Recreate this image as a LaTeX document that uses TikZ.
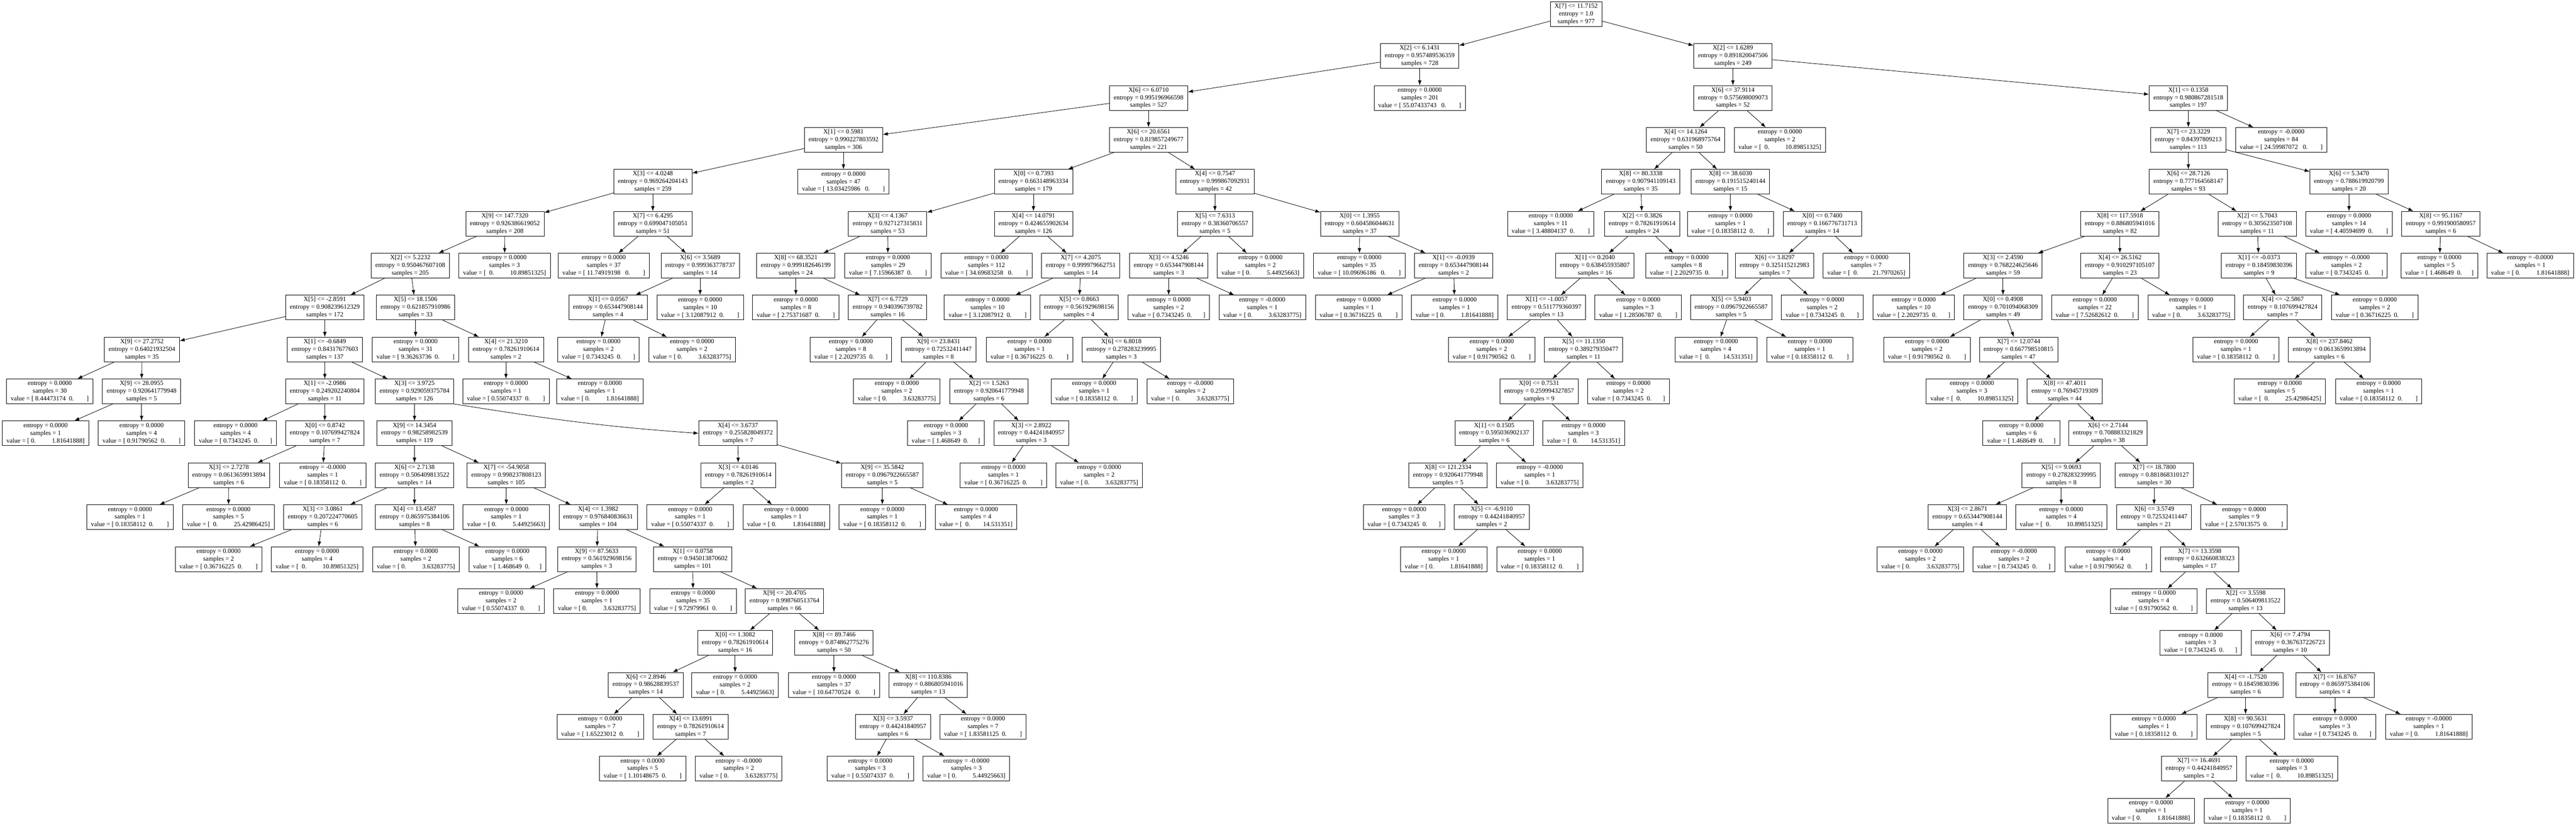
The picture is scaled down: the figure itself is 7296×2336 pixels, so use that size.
\documentclass[tikz,border=0pt]{standalone}
\usepackage{fontspec}
\setmainfont{Liberation Serif}
\usetikzlibrary{arrows.meta}
\newcommand\spc[1]{\hspace*{#1\fontdimen2\font}}
\newcommand\VL[2]{value = [\spc{1}#1\spc{2}0.\spc{#2}]}
\newcommand\VLL[2]{value = [\spc{1}#1\spc{3}0.\spc{#2}]}
\newcommand\VR[2]{value = [\spc{1}0.\spc{#2}#1]}
\newcommand\VRR[2]{value = [\spc{2}0.\spc{#2}#1]}
\newcommand\IN[4]{X[#1] <= #2\\entropy = #3\\samples = #4}
\newcommand\LF[3]{entropy = #1\\samples = #2\\#3}
\newcommand\N[4]{\node[box] (#1) at (#2,{40+118.7*#3}) {#4};}
\begin{document}
\begin{tikzpicture}[x=0.5pt,y=-0.5pt,
  box/.style={draw,line width=0.6pt,rectangle,align=center,inner xsep=6pt,inner ysep=0pt,minimum height=35pt,font=\fontsize{9.1}{10.85}\selectfont},
  arr/.style={-{Latex[length=7pt,width=5pt]},line width=0.6pt}]
\fill[white] (0,0) rectangle (7296,2336);
\useasboundingbox (0,0) rectangle (7296,2336);
% level 0
\N{r}{4464}{0}{\IN{7}{11.7152}{1.0}{977}}
% level 1
\N{a}{4021}{1}{\IN{2}{6.1431}{0.957489536359}{728}}
\N{b}{4908}{1}{\IN{2}{1.6289}{0.891820047506}{249}}
% level 2
\N{a1}{3253}{2}{\IN{6}{6.0710}{0.995196966598}{527}}
\N{a2}{4021}{2}{\LF{0.0000}{201}{\VLL{55.07433743}{8}}}
\N{b1}{4908}{2}{\IN{6}{37.9114}{0.575698009073}{52}}
\N{b2}{6198}{2}{\IN{1}{0.1358}{0.980867281518}{197}}
% level 3
\N{c1}{2389}{3}{\IN{1}{0.5981}{0.990227803592}{306}}
\N{c2}{3253}{3}{\IN{6}{20.6561}{0.819857249677}{221}}
\N{c3}{4774}{3}{\IN{4}{14.1264}{0.631968975764}{50}}
\N{c4}{5041}{3}{\LF{0.0000}{2}{\VRR{10.89851325}{10}}}
\N{c5}{6198}{3}{\IN{7}{23.3229}{0.84397809213}{113}}
\N{c6}{6461}{3}{\LF{-0.0000}{84}{\VLL{24.59987072}{8}}}
% level 4
\N{d1}{1849}{4}{\IN{3}{4.0248}{0.969264204143}{259}}
\N{d2}{2389}{4}{\LF{0.0000}{47}{\VLL{13.03425986}{8}}}
\N{d3}{2927}{4}{\IN{0}{0.7393}{0.663148963334}{179}}
\N{d4}{3441}{4}{\IN{4}{0.7547}{0.999867092931}{42}}
\N{d5}{4647}{4}{\IN{8}{80.3338}{0.907941109143}{35}}
\N{d6}{4901}{4}{\IN{8}{38.6030}{0.191515240144}{15}}
\N{d7}{6198}{4}{\IN{6}{28.7126}{0.777164568147}{93}}
\N{d8}{6653}{4}{\IN{6}{5.3470}{0.788619920799}{20}}
% level 5
\N{e1}{1430}{5}{\IN{9}{147.7320}{0.926386619052}{208}}
\N{e2}{1849}{5}{\IN{7}{6.4295}{0.699047105051}{51}}
\N{e3}{2514}{5}{\IN{3}{4.1367}{0.927127315831}{53}}
\N{e4}{2927}{5}{\IN{4}{14.0791}{0.424655902634}{126}}
\N{e5}{3441}{5}{\IN{5}{7.6313}{0.38360706557}{5}}
\N{e6}{3851}{5}{\IN{0}{1.3955}{0.604586044631}{37}}
\N{e7}{4392}{5}{\LF{0.0000}{11}{\VL{3.48804137}{8}}}
\N{e8}{4651}{5}{\IN{2}{0.3826}{0.78261910614}{24}}
\N{e9}{4901}{5}{\LF{0.0000}{1}{\VL{0.18358112}{8}}}
\N{e10}{5161}{5}{\IN{0}{0.7400}{0.166776731713}{14}}
\N{e11}{6004}{5}{\IN{8}{117.5918}{0.886805941016}{82}}
\N{e12}{6393}{5}{\IN{2}{5.7043}{0.305623507108}{11}}
\N{e13}{6653}{5}{\LF{0.0000}{14}{\VL{4.40594699}{8}}}
\N{e14}{6913}{5}{\IN{8}{95.1167}{0.991900580957}{6}}
% level 6
\N{f1}{1162}{6}{\IN{2}{5.2232}{0.950467607108}{205}}
\N{f2}{1429}{6}{\LF{0.0000}{3}{\VRR{10.89851325}{10}}}
\N{f3}{1710}{6}{\LF{0.0000}{37}{\VLL{11.74919198}{8}}}
\N{f4}{1983}{6}{\IN{6}{3.5689}{0.999363778737}{14}}
\N{f5}{2254}{6}{\IN{8}{68.3521}{0.999182646199}{24}}
\N{f6}{2515}{6}{\LF{0.0000}{29}{\VL{7.15966387}{8}}}
\N{f7}{2794}{6}{\LF{0.0000}{112}{\VLL{34.69683258}{8}}}
\N{f8}{3061}{6}{\IN{7}{4.2075}{0.999979662751}{14}}
\N{f9}{3310}{6}{\IN{3}{4.5246}{0.653447908144}{3}}
\N{f10}{3570}{6}{\LF{0.0000}{2}{\VR{5.44925663}{10}}}
\N{f11}{3850}{6}{\LF{0.0000}{35}{\VLL{10.09696186}{8}}}
\N{f12}{4117}{6}{\IN{1}{-0.0939}{0.653447908144}{2}}
\N{f13}{4517}{6}{\IN{1}{0.2040}{0.638455935807}{16}}
\N{f14}{4777}{6}{\LF{0.0000}{8}{\VL{2.2029735}{7}}}
\N{f15}{5026}{6}{\IN{6}{3.8297}{0.325115212983}{7}}
\N{f16}{5286}{6}{\LF{0.0000}{7}{\VRR{21.7970265}{9}}}
\N{f17}{5673}{6}{\IN{3}{2.4590}{0.768224625646}{59}}
\N{f18}{6004}{6}{\IN{4}{26.5162}{0.910297105107}{23}}
\N{f19}{6398}{6}{\IN{1}{-0.0373}{0.18459830396}{9}}
\N{f20}{6646}{6}{\LF{-0.0000}{2}{\VL{0.7343245}{7}}}
\N{f21}{6909}{6}{\LF{0.0000}{5}{\VL{1.468649}{6}}}
\N{f22}{7166}{6}{\LF{-0.0000}{1}{\VR{1.81641888}{10}}}
% level 7
\N{g1}{920}{7}{\IN{5}{-2.8591}{0.908239612329}{172}}
\N{g2}{1177}{7}{\IN{5}{18.1506}{0.621857910986}{33}}
\N{g3}{1722}{7}{\IN{1}{0.0567}{0.653447908144}{4}}
\N{g4}{1983}{7}{\LF{0.0000}{10}{\VL{3.12087912}{8}}}
\N{g5}{2254}{7}{\LF{0.0000}{8}{\VL{2.75371687}{8}}}
\N{g6}{2514}{7}{\IN{7}{6.7729}{0.940396739782}{16}}
\N{g7}{2797}{7}{\LF{0.0000}{10}{\VL{3.12087912}{8}}}
\N{g8}{3056}{7}{\IN{5}{0.8663}{0.561929698156}{4}}
\N{g9}{3310}{7}{\LF{0.0000}{2}{\VL{0.7343245}{7}}}
\N{g10}{3575}{7}{\LF{-0.0000}{1}{\VR{3.63283775}{10}}}
\N{g11}{3848}{7}{\LF{0.0000}{1}{\VL{0.36716225}{8}}}
\N{g12}{4120}{7}{\LF{0.0000}{1}{\VR{1.81641888}{10}}}
\N{g13}{4380}{7}{\IN{1}{-1.0057}{0.511779360397}{13}}
\N{g14}{4640}{7}{\LF{0.0000}{3}{\VL{1.28506787}{8}}}
\N{g15}{4903}{7}{\IN{5}{5.9403}{0.0967922665587}{5}}
\N{g16}{5161}{7}{\LF{0.0000}{2}{\VL{0.7343245}{7}}}
\N{g17}{5420}{7}{\LF{0.0000}{10}{\VL{2.2029735}{7}}}
\N{g18}{5673}{7}{\IN{0}{0.4908}{0.701094068309}{49}}
\N{g19}{5933}{7}{\LF{0.0000}{22}{\VL{7.52682612}{8}}}
\N{g20}{6206}{7}{\LF{0.0000}{1}{\VR{3.63283775}{10}}}
\N{g21}{6465}{7}{\IN{4}{-2.5867}{0.107699427824}{7}}
\N{g22}{6726}{7}{\LF{0.0000}{2}{\VL{0.36716225}{8}}}
% level 8
\N{h1}{402}{8}{\IN{9}{27.2752}{0.64021932504}{35}}
\N{h2}{920}{8}{\IN{1}{-0.6849}{0.84317677603}{137}}
\N{h3}{1177}{8}{\LF{0.0000}{31}{\VL{9.36263736}{8}}}
\N{h4}{1433}{8}{\IN{4}{21.3210}{0.78261910614}{2}}
\N{h5}{1695}{8}{\LF{0.0000}{2}{\VL{0.7343245}{7}}}
\N{h6}{1960}{8}{\LF{0.0000}{2}{\VR{3.63283775}{10}}}
\N{h7}{2410}{8}{\LF{0.0000}{8}{\VL{2.2029735}{7}}}
\N{h8}{2658}{8}{\IN{9}{23.8431}{0.72532411447}{8}}
\N{h9}{2916}{8}{\LF{0.0000}{1}{\VL{0.36716225}{8}}}
\N{h10}{3176}{8}{\IN{6}{6.8018}{0.278283239995}{3}}
\N{h11}{4225}{8}{\LF{0.0000}{2}{\VL{0.91790562}{8}}}
\N{h12}{4485}{8}{\IN{5}{11.1350}{0.389279350477}{11}}
\N{h13}{4860}{8}{\LF{0.0000}{4}{\VRR{14.531351}{8}}}
\N{h14}{5126}{8}{\LF{0.0000}{1}{\VL{0.18358112}{8}}}
\N{h15}{5458}{8}{\LF{0.0000}{2}{\VL{0.91790562}{8}}}
\N{h16}{5717}{8}{\IN{7}{12.0744}{0.667798510815}{47}}
\N{h17}{6333}{8}{\LF{0.0000}{1}{\VL{0.18358112}{8}}}
\N{h18}{6597}{8}{\IN{8}{237.8462}{0.0613659913894}{6}}
% level 9
\N{i1}{141}{9}{\LF{0.0000}{30}{\VL{8.44473174}{8}}}
\N{i2}{401}{9}{\IN{9}{28.0955}{0.920641779948}{5}}
\N{i3}{920}{9}{\IN{1}{-2.0986}{0.249202240804}{11}}
\N{i4}{1174}{9}{\IN{3}{3.9725}{0.929059375784}{126}}
\N{i5}{1433}{9}{\LF{0.0000}{1}{\VL{0.55074337}{8}}}
\N{i6}{1699}{9}{\LF{0.0000}{1}{\VR{1.81641888}{10}}}
\N{i7}{2540}{9}{\LF{0.0000}{2}{\VR{3.63283775}{10}}}
\N{i8}{2801}{9}{\IN{2}{1.5263}{0.920641779948}{6}}
\N{i9}{3099}{9}{\LF{0.0000}{1}{\VL{0.18358112}{8}}}
\N{i10}{3371}{9}{\LF{-0.0000}{2}{\VR{3.63283775}{10}}}
\N{i11}{4359}{9}{\IN{0}{0.7531}{0.259994327857}{9}}
\N{i12}{4612}{9}{\LF{0.0000}{2}{\VL{0.7343245}{7}}}
\N{i13}{5585}{9}{\LF{0.0000}{3}{\VRR{10.89851325}{10}}}
\N{i14}{5848}{9}{\IN{8}{47.4011}{0.76945719309}{44}}
\N{i15}{6457}{9}{\LF{0.0000}{5}{\VRR{25.42986425}{10}}}
\N{i16}{6737}{9}{\LF{0.0000}{1}{\VL{0.18358112}{8}}}
% level 10
\N{j1}{129}{10}{\LF{0.0000}{1}{\VR{1.81641888}{10}}}
\N{j2}{401}{10}{\LF{0.0000}{4}{\VL{0.91790562}{8}}}
\N{j3}{667}{10}{\LF{0.0000}{4}{\VL{0.7343245}{7}}}
\N{j4}{920}{10}{\IN{0}{0.8742}{0.107699427824}{7}}
\N{j5}{1174}{10}{\IN{9}{14.3454}{0.98258982539}{119}}
\N{j6}{2090}{10}{\IN{4}{3.6737}{0.255828049372}{7}}
\N{j7}{2679}{10}{\LF{0.0000}{3}{\VL{1.468649}{6}}}
\N{j8}{2921}{10}{\IN{3}{2.8922}{0.44241840957}{3}}
\N{j9}{4232}{10}{\IN{1}{0.1505}{0.595036902137}{6}}
\N{j10}{4485}{10}{\LF{0.0000}{3}{\VRR{14.531351}{8}}}
\N{j11}{5725}{10}{\LF{0.0000}{6}{\VL{1.468649}{6}}}
\N{j12}{5970}{10}{\IN{6}{2.7144}{0.708883321829}{38}}
% level 11
\N{k1}{648}{11}{\IN{3}{2.7278}{0.0613659913894}{6}}
\N{k2}{914}{11}{\LF{-0.0000}{1}{\VL{0.18358112}{8}}}
\N{k3}{1174}{11}{\IN{6}{2.7138}{0.506409813522}{14}}
\N{k4}{1434}{11}{\IN{7}{-54.9058}{0.998237808123}{105}}
\N{k5}{2091}{11}{\IN{3}{4.0146}{0.78261910614}{2}}
\N{k6}{2499}{11}{\IN{9}{35.5842}{0.0967922665587}{5}}
\N{k7}{2842}{11}{\LF{0.0000}{1}{\VL{0.36716225}{8}}}
\N{k8}{3113}{11}{\LF{0.0000}{2}{\VR{3.63283775}{10}}}
\N{k9}{4101}{11}{\IN{8}{121.2334}{0.920641779948}{5}}
\N{k10}{4361}{11}{\LF{-0.0000}{1}{\VR{3.63283775}{10}}}
\N{k11}{5838}{11}{\IN{5}{9.0693}{0.278283239995}{8}}
\N{k12}{6101}{11}{\IN{7}{18.7800}{0.881868310127}{30}}
% level 12
\N{l1}{368}{12}{\LF{0.0000}{1}{\VL{0.18358112}{8}}}
\N{l2}{647}{12}{\LF{0.0000}{5}{\VRR{25.42986425}{10}}}
\N{l3}{914}{12}{\IN{3}{3.0861}{0.207224770605}{6}}
\N{l4}{1174}{12}{\IN{4}{13.4587}{0.865975384106}{8}}
\N{l5}{1434}{12}{\LF{0.0000}{1}{\VR{5.44925663}{10}}}
\N{l6}{1694}{12}{\IN{4}{1.3982}{0.976840836631}{104}}
\N{l7}{1955}{12}{\LF{0.0000}{1}{\VL{0.55074337}{8}}}
\N{l8}{2227}{12}{\LF{0.0000}{1}{\VR{1.81641888}{10}}}
\N{l9}{2499}{12}{\LF{0.0000}{1}{\VL{0.18358112}{8}}}
\N{l10}{2764}{12}{\LF{0.0000}{4}{\VRR{14.531351}{8}}}
\N{l11}{3977}{12}{\LF{0.0000}{3}{\VL{0.7343245}{7}}}
\N{l12}{4225}{12}{\IN{5}{-6.9110}{0.44241840957}{2}}
\N{l13}{5572}{12}{\IN{3}{2.8671}{0.653447908144}{4}}
\N{l14}{5838}{12}{\LF{0.0000}{4}{\VRR{10.89851325}{10}}}
\N{l15}{6101}{12}{\IN{6}{3.5749}{0.72532411447}{21}}
\N{l16}{6356}{12}{\LF{0.0000}{9}{\VL{2.57013575}{8}}}
% level 13
\N{m1}{619}{13}{\LF{0.0000}{2}{\VL{0.36716225}{8}}}
\N{m2}{898}{13}{\LF{0.0000}{4}{\VRR{10.89851325}{10}}}
\N{m3}{1178}{13}{\LF{0.0000}{2}{\VR{3.63283775}{10}}}
\N{m4}{1437}{13}{\LF{0.0000}{6}{\VL{1.468649}{6}}}
\N{m5}{1690}{13}{\IN{9}{87.5633}{0.561929698156}{3}}
\N{m6}{1962}{13}{\IN{1}{0.0758}{0.945013870602}{101}}
\N{m7}{4089}{13}{\LF{0.0000}{1}{\VR{1.81641888}{10}}}
\N{m8}{4361}{13}{\LF{0.0000}{1}{\VL{0.18358112}{8}}}
\N{m9}{5439}{13}{\LF{0.0000}{2}{\VR{3.63283775}{10}}}
\N{m10}{5704}{13}{\LF{-0.0000}{2}{\VL{0.7343245}{7}}}
\N{m11}{5971}{13}{\LF{0.0000}{4}{\VL{0.91790562}{8}}}
\N{m12}{6230}{13}{\IN{7}{13.3598}{0.632660838323}{17}}
% level 14
\N{o1}{1419}{14}{\LF{0.0000}{2}{\VL{0.55074337}{8}}}
\N{o2}{1691}{14}{\LF{0.0000}{1}{\VR{3.63283775}{10}}}
\N{o3}{1963}{14}{\LF{0.0000}{35}{\VL{9.72979961}{8}}}
\N{o4}{2222}{14}{\IN{9}{20.4705}{0.998760513764}{66}}
\N{o5}{6100}{14}{\LF{0.0000}{4}{\VL{0.91790562}{8}}}
\N{o6}{6360}{14}{\IN{2}{3.5598}{0.506409813522}{13}}
% level 15
\N{p1}{2082}{15}{\IN{0}{1.3082}{0.78261910614}{16}}
\N{p2}{2362}{15}{\IN{8}{89.7466}{0.874862775276}{50}}
\N{p3}{6233}{15}{\LF{0.0000}{3}{\VL{0.7343245}{7}}}
\N{p4}{6486}{15}{\IN{6}{7.4794}{0.367637226723}{10}}
% level 16
\N{q1}{1829}{16}{\IN{6}{2.8946}{0.98628839537}{14}}
\N{q2}{2082}{16}{\LF{0.0000}{2}{\VR{5.44925663}{10}}}
\N{q3}{2362}{16}{\LF{0.0000}{37}{\VLL{10.64770524}{8}}}
\N{q4}{2629}{16}{\IN{8}{110.8386}{0.886805941016}{13}}
\N{q5}{6360}{16}{\IN{4}{-1.7520}{0.18459830396}{6}}
\N{q6}{6613}{16}{\IN{7}{16.8767}{0.865975384106}{4}}
% level 17
\N{s1}{1700}{17}{\LF{0.0000}{7}{\VL{1.65223012}{8}}}
\N{s2}{1956}{17}{\IN{4}{13.6991}{0.78261910614}{7}}
\N{s3}{2529}{17}{\IN{3}{3.5937}{0.44241840957}{6}}
\N{s4}{2784}{17}{\LF{0.0000}{7}{\VL{1.83581125}{8}}}
\N{s5}{6100}{17}{\LF{0.0000}{1}{\VL{0.18358112}{8}}}
\N{s6}{6360}{17}{\IN{8}{90.5631}{0.107699427824}{5}}
\N{s7}{6613}{17}{\LF{0.0000}{3}{\VL{0.7343245}{7}}}
\N{s8}{6879}{17}{\LF{-0.0000}{1}{\VR{1.81641888}{10}}}
% level 18
\N{t1}{1820}{18}{\LF{0.0000}{5}{\VL{1.10148675}{8}}}
\N{t2}{2092}{18}{\LF{-0.0000}{2}{\VR{3.63283775}{10}}}
\N{t3}{2465}{18}{\LF{0.0000}{3}{\VL{0.55074337}{8}}}
\N{t4}{2737}{18}{\LF{-0.0000}{3}{\VR{5.44925663}{10}}}
\N{t5}{6228}{18}{\IN{7}{16.4691}{0.44241840957}{2}}
\N{t6}{6491}{18}{\LF{0.0000}{3}{\VRR{10.89851325}{10}}}
% level 19
\N{u1}{6092}{19}{\LF{0.0000}{1}{\VR{1.81641888}{10}}}
\N{u2}{6365}{19}{\LF{0.0000}{1}{\VL{0.18358112}{8}}}
% edges
\foreach \p/\c in {r/a,r/b,a/a1,a/a2,b/b1,b/b2,a1/c1,a1/c2,c1/d1,c1/d2,c2/d3,c2/d4,
  b1/c3,b1/c4,b2/c5,b2/c6,c3/d5,c3/d6,c5/d7,c5/d8,d1/e1,d1/e2,d3/e3,d3/e4,d4/e5,d4/e6,
  d5/e7,d5/e8,d6/e9,d6/e10,d7/e11,d7/e12,d8/e13,d8/e14,e1/f1,e1/f2,e2/f3,e2/f4,e3/f5,e3/f6,
  e4/f7,e4/f8,e5/f9,e5/f10,e6/f11,e6/f12,e8/f13,e8/f14,e10/f15,e10/f16,e11/f17,e11/f18,
  e12/f19,e12/f20,e14/f21,e14/f22,f1/g1,f1/g2,f4/g3,f4/g4,f5/g5,f5/g6,f8/g7,f8/g8,f9/g9,f9/g10,
  f12/g11,f12/g12,f13/g13,f13/g14,f15/g15,f15/g16,f17/g17,f17/g18,f18/g19,f18/g20,f19/g21,f19/g22,
  g1/h1,g1/h2,g2/h3,g2/h4,g3/h5,g3/h6,g6/h7,g6/h8,g8/h9,g8/h10,g13/h11,g13/h12,g15/h13,g15/h14,
  g18/h15,g18/h16,g21/h17,g21/h18,h1/i1,h1/i2,h2/i3,h2/i4,h4/i5,h4/i6,h8/i7,h8/i8,h10/i9,h10/i10,
  h12/i11,h12/i12,h16/i13,h16/i14,h18/i15,h18/i16,i2/j1,i2/j2,i3/j3,i3/j4,i4/j5,i8/j7,i8/j8,
  i11/j9,i11/j10,i14/j11,i14/j12,j4/k1,j4/k2,j5/k3,j5/k4,j6/k5,j6/k6,j8/k7,j8/k8,j9/k9,j9/k10,
  j12/k11,j12/k12,k1/l1,k1/l2,k3/l3,k3/l4,k4/l5,k4/l6,k5/l7,k5/l8,k6/l9,k6/l10,k9/l11,k9/l12,
  k11/l13,k11/l14,k12/l15,k12/l16,l3/m1,l3/m2,l4/m3,l4/m4,l6/m5,l6/m6,l12/m7,l12/m8,l13/m9,l13/m10,
  l15/m11,l15/m12,m5/o1,m5/o2,m6/o3,m6/o4,m12/o5,m12/o6,o4/p1,o4/p2,o6/p3,o6/p4,p1/q1,p1/q2,
  p2/q3,p2/q4,p4/q5,p4/q6,q1/s1,q1/s2,q4/s3,q4/s4,q5/s5,q5/s6,q6/s7,q6/s8,s2/t1,s2/t2,s3/t3,s3/t4,
  s6/t5,s6/t6,t5/u1,t5/u2}
  \draw[arr] (\p) -- (\c);
\draw[arr] (i4.south east) to[out=-9,in=176] (j6.west);
\end{tikzpicture}
\end{document}
